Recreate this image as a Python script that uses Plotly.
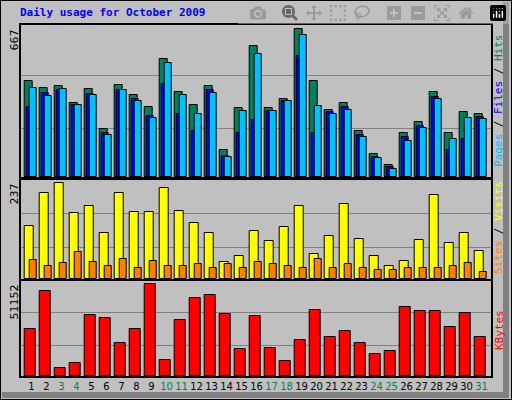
import plotly.graph_objects as go
from plotly.subplots import make_subplots

# daily usage, October 2009
days = list(range(1, 32))
hits = [433, 401, 410, 333, 397, 219, 415, 369, 315, 532, 387, 324, 410, 124, 311, 592,
        311, 351, 668, 433, 302, 333, 206, 106, 56, 197, 251, 383, 197, 296, 287]
files = [315, 378, 395, 325, 374, 197, 395, 351, 274, 420, 284, 206, 395, 97, 197, 259,
         297, 346, 550, 197, 293, 319, 192, 92, 47, 179, 233, 360, 120, 174, 273]
pages = [401, 365, 398, 328, 369, 188, 395, 342, 265, 518, 369, 287, 378, 92, 297, 556,
         297, 342, 645, 321, 284, 305, 183, 88, 38, 165, 224, 351, 174, 269, 264]
sites = [131, 211, 237, 163, 181, 113, 211, 165, 165, 225, 168, 137, 113, 41, 57, 118,
         93, 129, 181, 62, 106, 185, 98, 57, 33, 44, 95, 206, 88, 113, 70]
visits = [46, 33, 39, 67, 41, 33, 49, 28, 44, 31, 33, 36, 28, 36, 28, 41,
          36, 31, 26, 49, 26, 36, 28, 21, 23, 28, 26, 28, 33, 39, 18]
kbytes = [25950, 47237, 4668, 7468, 33979, 32299, 18295, 25950, 51152, 9148, 31179, 43504,
          45185, 34539, 14935, 33419, 15495, 8214, 19975, 36780, 21656, 25017, 18295, 12136,
          13816, 38460, 36220, 36220, 27071, 34979, 21656]
weekend = [3, 4, 10, 11, 17, 18, 24, 25, 31]

GREEN, BLUE, CYAN = "#00805c", "#0000ff", "#00c0ff"
YEL, ORG, RED = "#ffff00", "#ff8000", "#ff0000"

fig = make_subplots(rows=3, cols=1, shared_xaxes=True)

def bar(y, color, off, w, row):
    fig.add_trace(go.Bar(x=days, y=y, offset=off, width=w, marker_color=color,
                         marker_line=dict(color="black", width=1)), row=row, col=1)

bar(hits, GREEN, -0.43, 0.51, 1)
bar(files, BLUE, -0.32, 0.49, 1)
bar(pages, CYAN, -0.15, 0.49, 1)
bar(sites, YEL, -0.43, 0.58, 2)
bar(visits, ORG, -0.15, 0.49, 2)
bar(kbytes, RED, -0.43, 0.69, 3)

ticktext = [f"<span style='color:{GREEN if d in weekend else 'black'}'>{d}</span>" for d in days]
xd = [20.7 / 512, 490.7 / 512]
doms = [(25, 177), (180, 279), (281, 376)]
maxes = [668, 237, 51152]
for i, (top, bot) in enumerate(doms, start=1):
    m = maxes[i - 1]
    fig.update_yaxes(row=i, col=1, domain=[1 - bot / 400, 1 - top / 400],
                     range=[0, m * 1.03], tickvals=[m * 0.33, m * 0.685], showticklabels=False,
                     showgrid=True, gridcolor="#808080", gridwidth=1, zeroline=False,
                     showline=True, linecolor="black", linewidth=1.5, mirror=True, ticks="")
    fig.update_xaxes(row=i, col=1, domain=xd, range=[0.28, 31.61], showgrid=False,
                     showline=True, linecolor="black", linewidth=1.5, mirror=True,
                     tickvals=days, ticktext=ticktext, showticklabels=(i == 3), ticks="",
                     tickangle=0, tickfont=dict(family="DejaVu Sans", size=10))

ann = [
    dict(x=14 / 512, y=1 - 28 / 400, text="667"),
    dict(x=14 / 512, y=1 - 182 / 400, text="237"),
    dict(x=14 / 512, y=1 - 283 / 400, text="51152"),
]
for a in ann:
    fig.add_annotation(xref="paper", yref="paper", x=a["x"], y=a["y"], text=a["text"],
                       textangle=-90, showarrow=False, xanchor="center", yanchor="top",
                       font=dict(family="DejaVu Sans", size=11, color="black"))

side = [
    (101, f"<span style='color:{CYAN}'>Pages</span> / <span style='color:{BLUE}'>Files</span> / <span style='color:{GREEN}'>Hits</span>"),
    (228, f"<span style='color:{ORG}'>Sites</span> / <span style='color:{YEL}'>Visits</span>"),
    (330, f"<span style='color:{RED}'>KBytes</span>"),
]
for yy, t in side:
    fig.add_annotation(xref="paper", yref="paper", x=499 / 512, y=1 - yy / 400, text=t,
                       textangle=-90, showarrow=False, xanchor="center", yanchor="middle",
                       font=dict(family="DejaVu Sans Mono", size=11, color="black"))

fig.add_annotation(xref="paper", yref="paper", x=18 / 512, y=1 - 13 / 400,
                   text="<b>Daily usage for October 2009</b>", showarrow=False,
                   xanchor="left", yanchor="middle",
                   font=dict(family="DejaVu Sans Mono", size=11, color="#0000ff"))

# 3D frame around the image
fig.add_shape(type="rect", xref="paper", yref="paper", x0=0, x1=1, y0=0, y1=1,
              line=dict(color="black", width=2))
fig.add_shape(type="line", xref="paper", yref="paper", x0=506 / 512, x1=506 / 512,
              y0=2 / 400, y1=398 / 400, line=dict(color="#808080", width=6))
fig.add_shape(type="line", xref="paper", yref="paper", x0=2 / 512, x1=509 / 512,
              y0=5 / 400, y1=5 / 400, line=dict(color="#808080", width=6))

fig.update_layout(width=512, height=400, margin=dict(l=0, r=0, t=0, b=0),
                  paper_bgcolor="#c0c0c0", plot_bgcolor="#c0c0c0",
                  barmode="overlay", showlegend=False, bargap=0)
fig.write_html("out.html", post_script="document.body.style.margin='0';")
